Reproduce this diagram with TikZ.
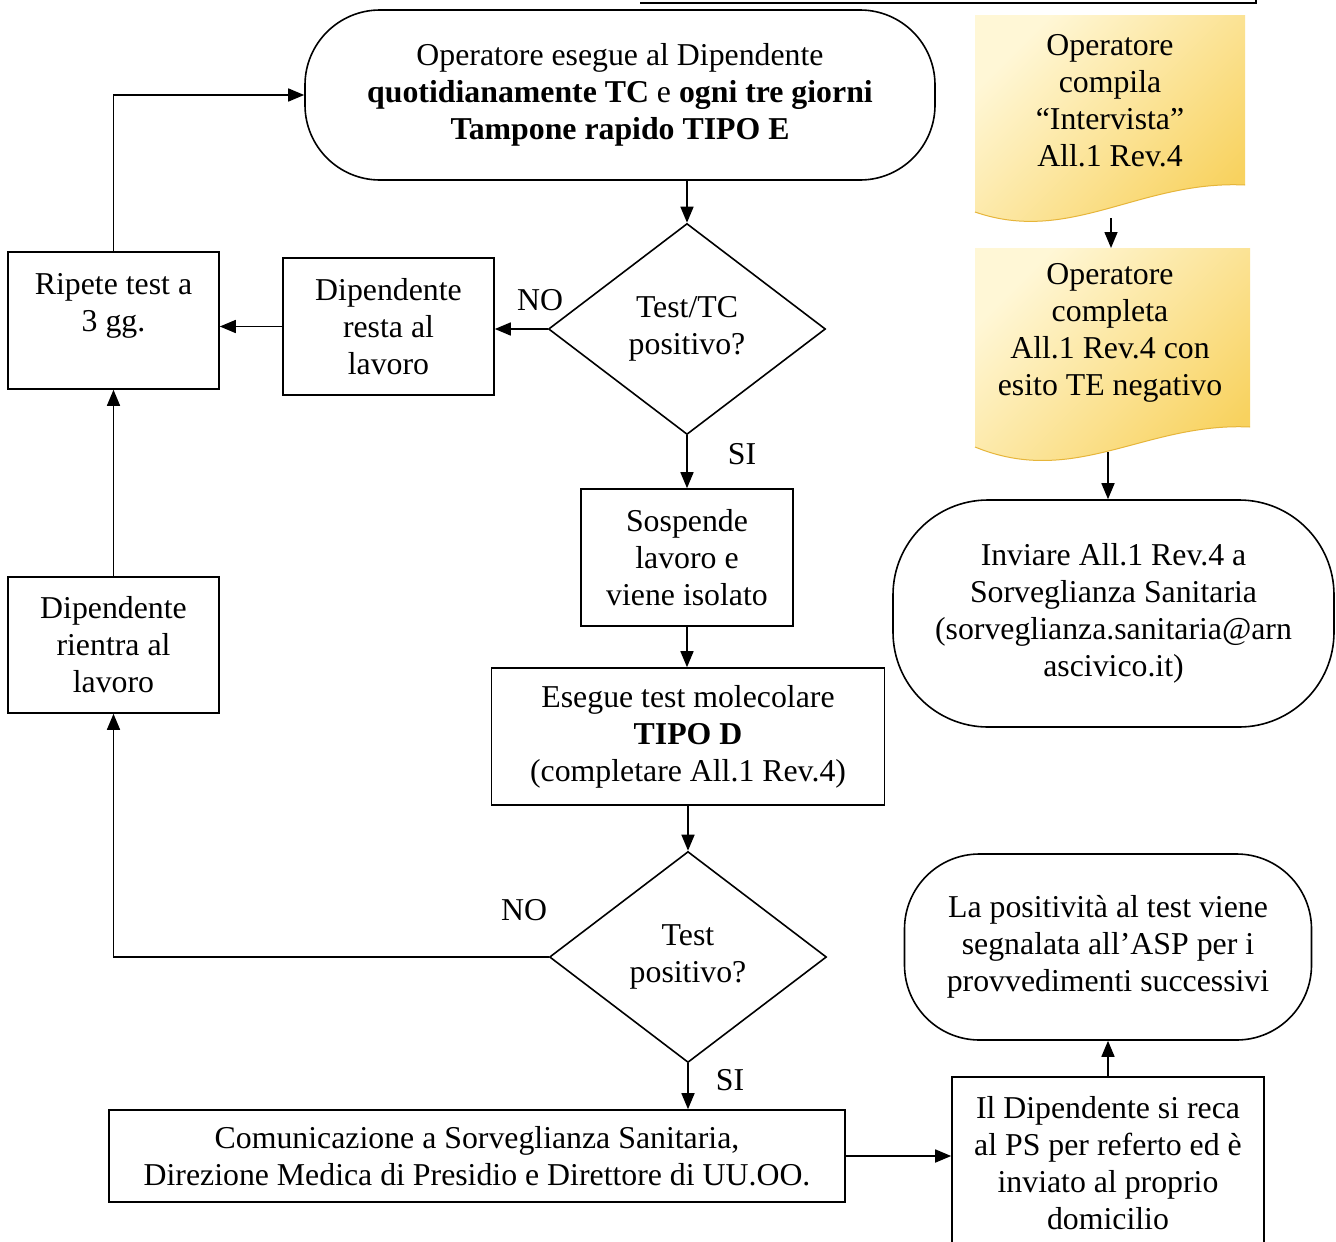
\documentclass[tikz,border=0pt]{standalone}
\usepackage{fontspec}
\setmainfont{Liberation Serif}
\usetikzlibrary{arrows.meta,shapes.geometric}
\definecolor{docpale}{HTML}{FFF7D6}
\definecolor{docgold}{HTML}{F8D25F}
\definecolor{docedge}{HTML}{E6B53A}
\begin{document}
\begin{tikzpicture}[x=1pt,y=-1pt,
  every node/.style={font={\fontsize{31.8}{37}\selectfont}, align=center},
  box/.style={draw, line width=1.6pt, inner sep=0pt},
  term/.style={draw, line width=1.6pt, rounded corners=75pt, inner sep=0pt},
  dec/.style={draw, diamond, line width=1.6pt, inner sep=0pt},
  arr/.style={line width=1.6pt, -{Triangle[length=16pt,width=13pt]}},
  lab/.style={inner sep=0pt},
  docshape/.style={top color=docpale, bottom color=docgold, shading angle=45}]
\clip (0,0) rectangle (1336,1242);
\fill[white] (0,0) rectangle (1336,1242);

% partial box at the top edge
\draw[line width=1.4pt] (640,3) -- (1256,3) -- (1256,-5);

% yellow document shapes
\shade[docshape] (975,15) -- (1245,15) -- (1245,185) .. controls (1140,180) and (1070,245) .. (975,212) -- cycle;
\draw[docedge, line width=1pt] (1245,185) .. controls (1140,180) and (1070,245) .. (975,212);
\shade[docshape] (975,248) -- (1250,248) -- (1250,427) .. controls (1145,422) and (1075,488) .. (975,447) -- cycle;
\draw[docedge, line width=1pt] (1250,427) .. controls (1145,422) and (1075,488) .. (975,447);

\node (doc1) at (1110,101) {Operatore\\compila\\“Intervista”\\All.1 Rev.4};
\node (doc2) at (1110,333) {Operatore\\completa\\All.1 Rev.4 con\\esito TE negativo};
\coordinate (doc1b) at (1111,218);
\coordinate (doc2t) at (1111,248);
\coordinate (doc2b) at (1108,452);

% main nodes
\node[term, minimum width=630pt, minimum height=170pt] (start) at (620,95)
  {Operatore esegue al Dipendente\\\textbf{quotidianamente TC} e \textbf{ogni tre giorni}\\\textbf{Tampone rapido TIPO E}};
\node[dec, minimum width=277pt, minimum height=211pt] (d1) at (687,329) {Test/TC\\positivo?};
\node[box, minimum width=211pt, minimum height=137pt] (resta) at (388.5,326.5) {Dipendente\\resta al\\lavoro};
\node[box, minimum width=211pt, minimum height=137pt] (ripete) at (113.5,320.5) {Ripete test a\\3 gg.\\\mbox{}};
\node[box, minimum width=211pt, minimum height=136pt] (rientra) at (113.5,645) {Dipendente\\rientra al\\lavoro};
\node[box, minimum width=212pt, minimum height=137pt] (sosp) at (687,557.5) {Sospende\\lavoro e\\viene isolato};
\node[box, minimum width=393pt, minimum height=137pt] (esegue) at (688,736.5) {Esegue test molecolare\\\textbf{TIPO D}\\(completare All.1 Rev.4)};
\node[dec, minimum width=277pt, minimum height=211pt] (d2) at (688,957) {Test\\positivo?};
\node[box, minimum width=736pt, minimum height=92pt] (comun) at (477,1156)
  {Comunicazione a Sorveglianza Sanitaria,\\Direzione Medica di Presidio e Direttore di UU.OO.};
\node[box, minimum width=312pt, minimum height=173pt] (ps) at (1108,1163.5)
  {Il Dipendente si reca\\al PS per referto ed è\\inviato al proprio\\domicilio};
\node[term, minimum width=407pt, minimum height=186pt] (asp) at (1108,947)
  {La positività al test viene\\segnalata all’ASP per i\\provvedimenti successivi};
\node[term, rounded corners=95pt, minimum width=441pt, minimum height=227pt] (invia) at (1113.5,613.5)
  {Inviare All.1 Rev.4 a\\Sorveglianza Sanitaria\\(sorveglianza.sanitaria@arn\\ascivico.it)};

% labels
\node[lab] (no1) at (540,300) {NO};
\node[lab] (si1) at (742,454) {SI};
\node[lab] (no2) at (524,910) {NO};
\node[lab] (si2) at (730,1080) {SI};

% connectors
\draw[arr] (doc1b) -- (doc2t);
\draw[arr] (doc2b) -- (doc2b |- invia.north);
\draw[arr] (start.south -| d1.north) -- (d1.north);
\draw[arr] (d1.west) -- (resta.east |- d1.west);
\draw[arr] (resta.west) -- (ripete.east |- resta.west);
\draw[arr] (ripete.north) |- (start.west);
\draw[arr] (rientra.north) -- (ripete.south);
\draw[arr] (d2.west) -| (rientra.south);
\draw[arr] (d1.south) -- (sosp.north);
\draw[arr] (sosp.south) -- (sosp.south |- esegue.north);
\draw[arr] (esegue.south) -- (d2.north);
\draw[arr] (d2.south) -- (d2.south |- comun.north);
\draw[arr] (comun.east) -- (ps.west |- comun.east);
\draw[arr] (ps.north) -- (asp.south);
\end{tikzpicture}
\end{document}
